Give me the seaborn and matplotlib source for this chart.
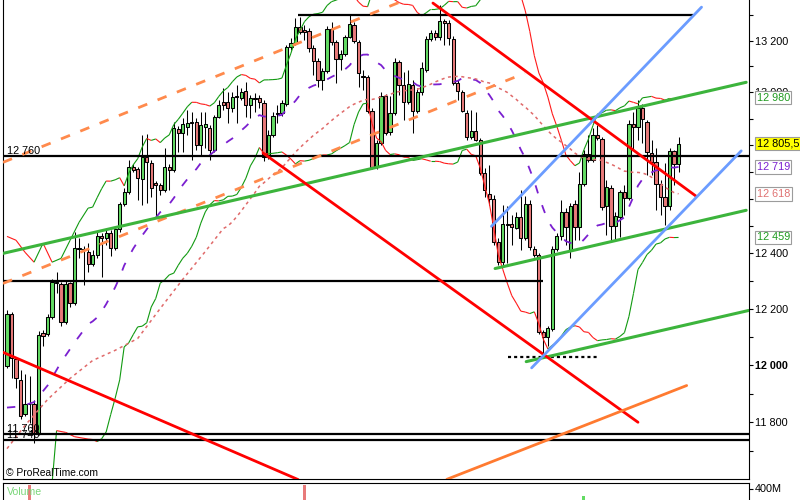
import numpy as np
import pandas as pd
import matplotlib
matplotlib.use("Agg")
import matplotlib.pyplot as plt
import matplotlib.transforms as mtransforms
from matplotlib.collections import LineCollection
from matplotlib.ticker import FixedLocator, NullLocator
import seaborn as sns

sns.set_theme(style="white")
plt.rcParams['font.family'] = ['Liberation Sans', 'DejaVu Sans']
plt.rcParams['lines.scale_dashes'] = False

# daily candles, bar 1 = first visible bar
opens = [11995, 12180, 12020, 11949, 11827, 11865, 11865, 11764, 12112, 12109,
         12169, 12295, 12288, 12151, 12291, 12219, 12419, 12411, 12404, 12360,
         12393, 12462, 12455, 12473, 12419, 12488, 12580, 12625, 12718, 12711,
         12673, 12755, 12733, 12658, 12651, 12632, 12718, 12707, 12861, 12846,
         12868, 12887, 12887, 12800, 12868, 12865, 12782, 12906, 12963, 12963,
         12940, 12986, 12978, 13005, 12952, 12978, 12978, 12959, 12755, 12838,
         12921, 12921, 12955, 13175, 13190, 13253, 13241, 13237, 13171, 13120,
         13047, 13082, 13245, 13194, 13128, 13147, 13214, 13260, 13194, 13063,
         13059, 12929, 12718, 12808, 12986, 12849, 12921, 13117, 13028, 12963,
         13028, 12929, 13001, 13086, 13206, 13229, 13214, 13276, 13268, 13206,
         13036, 13001, 12921, 12830, 12853, 12819, 12696, 12617, 12599, 12441,
         12368, 12506, 12506, 12492, 12532, 12455, 12580, 12415, 12393, 12116,
         12098, 12126, 12415, 12462, 12551, 12411, 12580, 12495, 12654, 12767,
         12744, 12838, 12823, 12573, 12639, 12499, 12532, 12625, 12602, 12880,
         12868, 12940, 12887, 12771, 12737, 12654, 12606, 12573, 12778, 12729]
closes = [12183, 12024, 11956, 11823, 11865, 11862, 11764, 12105, 12102, 12169,
          12295, 12291, 12151, 12288, 12219, 12419, 12415, 12415, 12360, 12393,
          12462, 12455, 12473, 12419, 12488, 12580, 12625, 12718, 12707, 12677,
          12755, 12737, 12640, 12651, 12632, 12718, 12707, 12865, 12846, 12880,
          12884, 12885, 12800, 12876, 12880, 12782, 12906, 12952, 12952, 12940,
          12982, 12982, 13001, 12952, 12978, 12975, 12963, 12755, 12838, 12910,
          12918, 12959, 13175, 13190, 13253, 13233, 13233, 13171, 13120, 13047,
          13082, 13245, 13194, 13128, 13147, 13214, 13264, 13198, 13074, 13059,
          12929, 12718, 12808, 12986, 12846, 12921, 13117, 13028, 12963, 13032,
          12929, 13001, 13094, 13206, 13229, 13214, 13276, 13268, 13210, 13036,
          13005, 12929, 12830, 12853, 12819, 12696, 12632, 12599, 12441, 12368,
          12506, 12503, 12495, 12532, 12455, 12580, 12422, 12393, 12116, 12098,
          12130, 12415, 12462, 12551, 12495, 12573, 12495, 12654, 12767, 12744,
          12838, 12827, 12569, 12643, 12499, 12536, 12625, 12602, 12880, 12868,
          12940, 12899, 12775, 12737, 12654, 12606, 12573, 12778, 12729, 12805.5]
highs = [12194, 12187, 12027, 11981, 11967, 11963, 11876, 12119, 12123, 12180,
         12306, 12331, 12298, 12302, 12298, 12477, 12455, 12426, 12437, 12411,
         12477, 12473, 12484, 12484, 12499, 12588, 12639, 12744, 12729, 12718,
         12838, 12842, 12744, 12666, 12658, 12789, 12729, 12887, 12872, 12902,
         12933, 12925, 12902, 12925, 12925, 12876, 12914, 12971, 13017, 13001,
         13001, 13028, 13017, 13040, 12990, 12997, 12990, 12971, 12857, 12925,
         12952, 12971, 13182, 13210, 13288, 13292, 13260, 13249, 13182, 13132,
         13094, 13257, 13272, 13202, 13163, 13221, 13300, 13272, 13202, 13086,
         13066, 12940, 12819, 13001, 12994, 12986, 13132, 13124, 13078, 13086,
         13047, 13017, 13117, 13217, 13241, 13241, 13338, 13285, 13280, 13217,
         13047, 13009, 12933, 12933, 12925, 12827, 12714, 12726, 12613, 12455,
         12576, 12573, 12539, 12551, 12632, 12610, 12595, 12426, 12400, 12123,
         12140, 12426, 12473, 12595, 12566, 12584, 12595, 12700, 12782, 12838,
         12865, 12876, 12830, 12669, 12651, 12551, 12632, 12651, 12895, 12925,
         12971, 12955, 12895, 12819, 12789, 12669, 12733, 12789, 12782, 12830]
lows = [11988, 11953, 11921, 11813, 11820, 11796, 11730, 11757, 12069, 12102,
        12165, 12255, 12137, 12144, 12208, 12212, 12382, 12284, 12331, 12353,
        12382, 12316, 12429, 12389, 12411, 12477, 12573, 12617, 12700, 12595,
        12576, 12584, 12606, 12528, 12613, 12625, 12632, 12700, 12775, 12775,
        12838, 12744, 12782, 12763, 12789, 12744, 12775, 12902, 12933, 12884,
        12925, 12884, 12971, 12906, 12902, 12925, 12940, 12740, 12748, 12830,
        12884, 12910, 12948, 13163, 13182, 13225, 13202, 13155, 13066, 13020,
        13009, 13074, 13182, 13036, 13086, 13140, 13210, 13190, 13020, 13009,
        12921, 12711, 12711, 12800, 12838, 12838, 12914, 12990, 12895, 12955,
        12846, 12921, 12990, 13078, 13198, 13202, 13202, 13182, 13182, 13028,
        12971, 12925, 12819, 12823, 12815, 12688, 12606, 12576, 12430, 12357,
        12357, 12364, 12430, 12488, 12411, 12448, 12411, 12386, 12109, 12041,
        12069, 12119, 12407, 12448, 12430, 12382, 12448, 12448, 12647, 12737,
        12737, 12819, 12558, 12466, 12448, 12448, 12459, 12539, 12595, 12782,
        12819, 12808, 12688, 12688, 12558, 12539, 12503, 12558, 12651, 12700]

# indicator values on the first bars (history is off screen)
ma20_head_idx = [1, 4, 7, 10, 13, 16, 19]
ma20_head = [11851, 11855, 11870, 11928, 12010, 12080, 12145]
bb_up_head_idx = [1, 3, 5, 7, 9, 11, 13, 15, 17, 19]
bb_up_head = [12462, 12448, 12404, 12368, 12437, 12368, 12382, 12448, 12514, 12566]
bb_lo_head_idx = [1, 5, 10, 11, 12, 14, 16, 19]
bb_lo_head = [11300, 11350, 11480, 11590, 11771, 11765, 11750, 11742]
ma50_head_idx = [1, 5, 10, 15, 20, 25, 30, 35, 40, 45, 49]
ma50_head = [11709, 11789, 11879, 11953, 12016, 12052, 12094, 12201, 12306, 12407, 12491]

# volume bars tall enough to show in the clipped volume pane
vol_idx = [6, 67, 129]
vol_vals = [413e6, 414e6, 374e6]

# drawn trend lines, (bar index, price) end points
red_lines = [((0.11, 12045), (65.6, 11603)),
             ((57.8, 12771), (141.0, 11800)),
             ((95.5, 13346), (153.9, 12610))]
green_lines = [((0.11, 12400), (165.0, 13039)),
               ((109.3, 12345), (165.0, 12558)),
               ((116.2, 12012), (165.6, 12194))]
blue_lines = [((108.5, 12499), (155.1, 13330)),
              ((117.4, 11990), (163.9, 12779))]
orange_line = ((98.6, 11604), (151.8, 11928))
orange_dashed = [((0.11, 12736), (92.7, 13382)),
                 ((0.11, 12291), (115.9, 13074))]
full_levels = [12760, 11760, 11740]
part_levels = [(13300, 65.5, 153.2), (12300, 0.11, 119.9)]
dotted_level = (12030, 112.2, 131.9)

# right hand price scale
tick_vals = list(range(11700, 13400, 100))
tick_text = {11800: '11 800', 12000: '12 000', 12200: '12 200',
             12400: '12 400', 13000: '13 000', 13200: '13 200'}
price_tags = [(12980, '12 980', '#1f9a1f', 'white'),
              (12805.5, '12 805,5', 'black', '#ffff00'),
              (12719, '12 719', '#7a1fd0', 'white'),
              (12618, '12 618', '#e07272', 'white'),
              (12459, '12 459', '#1f9a1f', 'white')]

GREEN_BODY = '#63db63'
RED_BODY = '#e87a7a'

n = len(closes)
idx = np.arange(1, n + 1)
s = pd.Series(closes)
ma20 = s.rolling(20).mean()
sd20 = s.rolling(20).std(ddof=0)
bb_up = ma20 + 2 * sd20
bb_lo = ma20 - 2 * sd20
ma50 = s.rolling(50).mean()


def join(head_idx, head_vals, series, start):
    xs = list(head_idx) + list(idx[start - 1:])
    ys = list(head_vals) + list(series.values[start - 1:])
    return np.array(xs, float), np.array(ys, float)


fig = plt.figure(figsize=(8, 5), dpi=100)
ax = fig.add_axes([3 / 800, 21 / 500, 746 / 800, 479 / 500])
ax.set_facecolor('white')
ax.set_yscale('log')
ax.set_xlim(0.1125, 165.63)
ax.set_ylim(11605, 13358)

# candles
o = np.array(opens)
c = np.array(closes)
up = c >= o
ax.vlines(idx, lows, highs, colors='black', linewidth=0.75, zorder=2)
ax.bar(idx, np.abs(c - o), bottom=np.minimum(o, c), width=0.72,
       color=np.where(up, GREEN_BODY, RED_BODY), edgecolor='black',
       linewidth=0.75, zorder=3)

# bollinger bands, green when rising, red when falling
for hx, hv, series in [(bb_up_head_idx, bb_up_head, bb_up),
                       (bb_lo_head_idx, bb_lo_head, bb_lo)]:
    xs, ys = join(hx, hv, series, 20)
    segs = [[(xs[i], ys[i]), (xs[i + 1], ys[i + 1])] for i in range(len(xs) - 1)]
    cols = ['#119a11' if ys[i + 1] >= ys[i] else '#ff1a1a' for i in range(len(xs) - 1)]
    ax.add_collection(LineCollection(segs, colors=cols, linewidths=0.8, zorder=4))

# moving averages
xs, ys = join(ma20_head_idx, ma20_head, ma20, 20)
sns.lineplot(x=xs, y=ys, ax=ax, color='#7a1fd0', linewidth=1.3, sort=False,
             estimator=None, linestyle=(0, (6, 9)), zorder=4)
xs, ys = join(ma50_head_idx, ma50_head, ma50, 50)
sns.lineplot(x=xs, y=ys, ax=ax, color='#e06a6a', linewidth=1.1, sort=False,
             estimator=None, linestyle=(0, (2.2, 2.6)), zorder=4)

# horizontal levels
for lv in full_levels:
    ax.axhline(lv, color='black', linewidth=1.6, zorder=5)
for lv, x0, x1 in part_levels:
    ax.hlines(lv, x0, x1, color='black', linewidth=1.6, zorder=5)
ax.hlines(dotted_level[0], dotted_level[1], dotted_level[2], color='black',
          linewidth=1.6, linestyles=(0, (2.2, 2.2)), zorder=5)

# trend lines
for (a, b) in orange_dashed:
    ax.plot([a[0], b[0]], [a[1], b[1]], color='#ff8a4c', linewidth=2.0,
            linestyle=(0, (7, 8)), zorder=5)
for (a, b) in green_lines:
    ax.plot([a[0], b[0]], [a[1], b[1]], color='#3cb43c', linewidth=2.2, zorder=6)
for (a, b) in red_lines:
    ax.plot([a[0], b[0]], [a[1], b[1]], color='#ff0000', linewidth=2.0, zorder=6)
for (a, b) in blue_lines:
    ax.plot([a[0], b[0]], [a[1], b[1]], color='#6b9cff', linewidth=2.0, zorder=6)
a, b = orange_line
ax.plot([a[0], b[0]], [a[1], b[1]], color='#ff7a30', linewidth=2.0, zorder=6)

# axis styling
for sp in ax.spines.values():
    sp.set_color('black')
    sp.set_linewidth(0.8)
ax.spines['top'].set_visible(False)
ax.xaxis.set_visible(False)
ax.yaxis.tick_right()
ax.yaxis.set_major_locator(FixedLocator(tick_vals))
ax.yaxis.set_minor_locator(NullLocator())
ax.set_yticklabels([tick_text.get(v, '') for v in tick_vals])
ax.tick_params(axis='y', which='major', direction='out', length=2.6, width=0.8,
               pad=1.6, labelsize=7.8, colors='black', right=True, left=False)
for lbl, v in zip(ax.get_yticklabels(), tick_vals):
    if v == 12000:
        lbl.set_fontweight('bold')
ax.set_ylabel('')

blend = mtransforms.blended_transform_factory(ax.transAxes, ax.transData)
for price, txt, tc, fc in price_tags:
    ax.text(1.0101, price, txt, transform=blend, ha='left', va='center',
            fontsize=7.8, color=tc, zorder=10, clip_on=False,
            bbox=dict(boxstyle='square,pad=0.15', fc=fc, ec='#9c9c9c', lw=0.8))

for lv, txt in [(12760, '12 760'), (11760, '11 760'), (11740, '11 740')]:
    ax.text(0.0054, lv, txt, transform=blend, ha='left', va='bottom',
            fontsize=7.8, color='black', zorder=7)
ax.text(0.004, 0.002, '\u00a9 ProRealTime.com', transform=ax.transAxes,
        ha='left', va='bottom', fontsize=7.4, color='black', zorder=7)

# volume pane, only its top shows in the picture
axv = fig.add_axes([3 / 800, -98.5 / 500, 746 / 800, 115.5 / 500])
axv.set_facecolor('white')
axv.set_xlim(0.1125, 165.63)
axv.set_ylim(0, 420e6)
vcol = [GREEN_BODY if closes[i - 1] >= opens[i - 1] else RED_BODY for i in vol_idx]
axv.bar(vol_idx, vol_vals, width=0.66, color=vcol, linewidth=0)
for sp in axv.spines.values():
    sp.set_color('black')
    sp.set_linewidth(0.8)
axv.xaxis.set_visible(False)
axv.yaxis.tick_right()
axv.set_yticks([400e6])
axv.set_yticklabels(['400M'])
axv.tick_params(axis='y', direction='out', length=2.6, width=0.8, pad=1.6,
                labelsize=7.8, colors='black', right=True, left=False)
axv.text(0.0054, 1 - 12 / 115.5, 'Volume', transform=axv.transAxes, ha='left',
         va='baseline', fontsize=7.6, color='#7ad67a')

fig.savefig('out.png', dpi=100, facecolor='white')
